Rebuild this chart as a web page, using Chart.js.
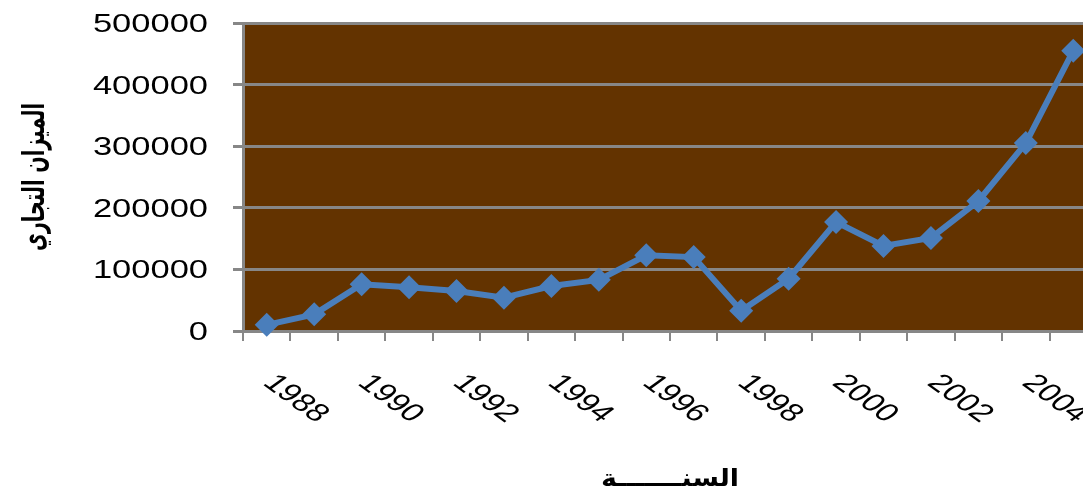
<!DOCTYPE html>
<html lang="ar">
<head>
  <meta charset="UTF-8" />
  <title>الميزان التجاري</title>
  <script src="https://cdn.jsdelivr.net/npm/chart.js"></script>
  <style>
    html, body { margin: 0; padding: 0; background: #fff; overflow: hidden; }
    #wrap { width: 1109px; height: 495px; }
  </style>
</head>
<body>
<div id="wrap"><canvas id="chart" width="1109" height="495"></canvas></div>
<script>
const years = ['1988','1989','1990','1991','1992','1993','1994','1995','1996',
               '1997','1998','1999','2000','2001','2002','2003','2004','2005'];
const balance = [10000, 27000, 76000, 71000, 65000, 54000, 73000, 83000, 123000,
                 120000, 33000, 85000, 177000, 138000, 151000, 211000, 305000, 455000];
const yTicks = [0, 100000, 200000, 300000, 400000, 500000];
const yearTicks = ['1988','1990','1992','1994','1996','1998','2000','2002','2004'];
const yTitle = 'الميزان التجاري';
const xTitle = 'السنـــــــة';

const plotColor = '#633300';
const gridColor = '#878787';
const lineColor = '#4a7ebb';
const stretch = 1.38;   // the original picture is wider than tall text would be

// brown plot area + hand drawn labels (the picture's text is stretched sideways)
const decor = {
  id: 'decor',
  beforeDraw(chart) {
    const a = chart.chartArea, ctx = chart.ctx;
    ctx.save();
    ctx.fillStyle = plotColor;
    ctx.fillRect(a.left, a.top, a.right - a.left, a.bottom - a.top);
    ctx.restore();
  },
  afterDraw(chart) {
    const ctx = chart.ctx, xs = chart.scales.x, ys = chart.scales.y, a = chart.chartArea;
    ctx.save();
    ctx.fillStyle = '#000';
    ctx.font = '25px "Liberation Sans", Arial, sans-serif';
    ctx.textBaseline = 'alphabetic';

    yTicks.forEach(v => {
      ctx.save();
      ctx.translate(ys.right - 35, ys.getPixelForValue(v) + 9);
      ctx.scale(stretch, 1);
      ctx.textAlign = 'right';
      ctx.fillText(String(v), 0, 0);
      ctx.restore();
    });

    years.forEach((yr, i) => {
      if (!yearTicks.includes(yr)) return;
      ctx.save();
      ctx.translate(xs.getPixelForValue(i) - 5, xs.top + 53);
      ctx.scale(stretch, 1);
      ctx.rotate(Math.PI / 4);
      ctx.textAlign = 'left';
      ctx.fillText(yr, 0, 0);
      ctx.restore();
    });

    // axis titles
    ctx.font = 'bold 24px "DejaVu Sans", sans-serif';
    ctx.textAlign = 'center';
    let w = ctx.measureText(xTitle).width;
    ctx.save();
    ctx.translate((a.left + a.right) / 2, 486);
    ctx.scale(138 / w, 1);
    ctx.fillText(xTitle, 0, 0);
    ctx.restore();

    ctx.font = 'bold 21px "DejaVu Sans", sans-serif';
    w = ctx.measureText(yTitle).width;
    ctx.save();
    ctx.translate(44, (a.top + a.bottom) / 2);
    ctx.rotate(-Math.PI / 2);
    ctx.scale(148 / w, 1.45);
    ctx.fillText(yTitle, 0, 0);
    ctx.restore();
    ctx.restore();
  }
};

new Chart(document.getElementById('chart'), {
  type: 'line',
  data: {
    labels: years,
    datasets: [{
      data: balance,
      borderColor: lineColor,
      borderWidth: 6,
      backgroundColor: lineColor,
      pointStyle: 'rectRot',
      pointRadius: 12,
      pointBorderWidth: 0,
      pointBackgroundColor: lineColor,
      tension: 0,
      clip: false
    }]
  },
  options: {
    responsive: false,
    animation: false,
    layout: { padding: { top: 23, right: 4, left: 0, bottom: 0 } },
    plugins: { legend: { display: false }, tooltip: { enabled: false } },
    scales: {
      x: {
        offset: true,
        grid: { offset: true, drawOnChartArea: false, color: gridColor, lineWidth: 2, tickLength: 10 },
        border: { color: gridColor, width: 3 },
        ticks: { display: false },
        afterFit(s) { s.height = 164; }
      },
      y: {
        min: 0,
        max: 500000,
        grid: { color: gridColor, lineWidth: 3, tickLength: 10 },
        border: { color: gridColor, width: 3 },
        ticks: { display: false, stepSize: 100000 },
        afterFit(s) { s.width = 243; }
      }
    }
  },
  plugins: [decor]
});
</script>
</body>
</html>
